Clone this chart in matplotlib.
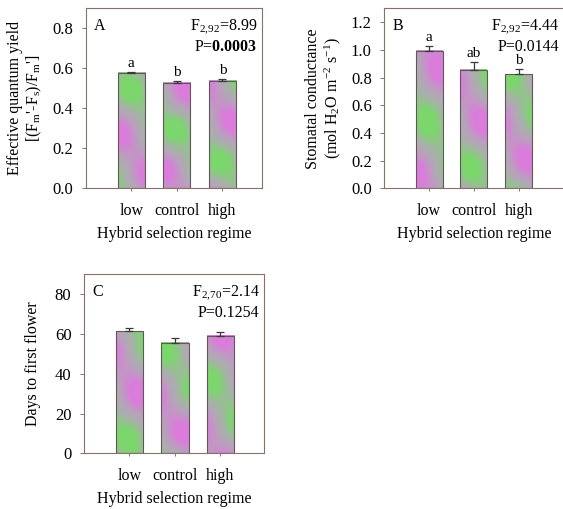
import matplotlib
matplotlib.use('Agg')
import matplotlib.pyplot as plt
import numpy as np

plt.rcParams['font.family'] = 'Liberation Serif'
plt.rcParams['mathtext.fontset'] = 'custom'
plt.rcParams['mathtext.rm'] = 'Liberation Serif'
plt.rcParams['mathtext.bf'] = 'Liberation Serif:bold'
plt.rcParams['mathtext.default'] = 'rm'

# data
regimes = ['low', 'control', 'high']

yield_mean = [0.575, 0.527, 0.538]
yield_err = [0.005, 0.008, 0.008]
yield_letters = ['a', 'b', 'b']

gs_mean = [0.995, 0.857, 0.822]
gs_err = [0.035, 0.055, 0.040]
gs_letters = ['a', 'ab', 'b']

flower_mean = [61.3, 55.4, 59.0]
flower_err = [1.9, 2.6, 2.0]

frame_col = '#85726c'
edge_col = '#625858'
green = np.array([110, 226, 90]) / 255.
magenta = np.array([230, 112, 230]) / 255.
gray = np.array([176, 170, 180]) / 255.


def bar_texture(ax, x0, x1, top, seed):
    # soft diagonal green/magenta bands over grey, like the scanned bars
    ny, nx = 160, 40
    u = np.linspace(0, 27, nx)[None, :]
    v = np.linspace(0, 120, ny)[:, None]
    t = (0.9 * np.sin(2 * np.pi * (v + 1.4 * u) / 125. + seed)
         + 0.3 * np.sin(2 * np.pi * (v - 0.9 * u) / 70. + 1.7 * seed))
    t = np.clip(t, -1, 1)
    t = np.sign(t) * np.abs(t) ** 1.4 * 0.8
    t = t[..., None]
    img = np.where(t > 0, gray + t * (magenta - gray), gray - t * (green - gray))
    ax.imshow(img, extent=[x0, x1, 0, top], aspect='auto',
              origin='lower', zorder=1, interpolation='bilinear')


def panel(ax, means, errs, ylim, yticks, fmt, tag, fline, pline, letters=None, xmax=4.0):
    x = np.arange(1, len(regimes) + 1)
    w = 0.6
    for i in range(len(x)):
        bar_texture(ax, x[i] - w / 2, x[i] + w / 2, means[i], 1.9 * i + 2.3 * ord(tag))
    ax.bar(x, means, width=w, fill=False, edgecolor=edge_col, linewidth=0.8, zorder=2)
    ax.errorbar(x, means, yerr=[np.zeros(len(errs)), errs], fmt='none',
                ecolor='#3a3a3a', elinewidth=0.9, capsize=3, capthick=0.9, zorder=3)
    if letters:
        for xi, m, e, l in zip(x, means, errs, letters):
            ax.annotate(l, (xi, m + e), xytext=(0, 1.5), textcoords='offset points',
                        ha='center', va='bottom', fontsize=11)
    ax.set_xlim(0, xmax)
    ax.set_ylim(*ylim)
    ax.set_yticks(yticks)
    ax.set_yticklabels([fmt % t for t in yticks])
    ax.set_xticks(x)
    ax.set_xticklabels(regimes)
    for s in ax.spines.values():
        s.set_color(frame_col)
        s.set_linewidth(0.8)
    ax.tick_params(axis='y', direction='out', length=3, width=0.7, color=frame_col,
                   labelsize=12, pad=6)
    ax.tick_params(axis='x', direction='out', length=2.5, width=0.7, color=frame_col,
                   labelsize=11.5, pad=8)
    ax.set_xlabel('Hybrid selection regime', fontsize=11.5, labelpad=5)
    ax.text(0.045, 0.90, tag, transform=ax.transAxes, fontsize=11.5, va='center', ha='left')
    ax.text(0.975, 0.90, fline, transform=ax.transAxes, fontsize=11.5, va='center', ha='right')
    ax.text(0.975, 0.785, pline, transform=ax.transAxes, fontsize=11.5, va='center', ha='right')


fig = plt.figure(figsize=(5.63, 5.09), dpi=100)
axA = fig.add_axes([0.1522, 0.630, 0.3132, 0.3537])
axB = fig.add_axes([0.6826, 0.630, 0.3183, 0.3537])
axC = fig.add_axes([0.1492, 0.1094, 0.3197, 0.3517])

panel(axA, yield_mean, yield_err, (0, 0.9), [0.0, 0.2, 0.4, 0.6, 0.8], '%.1f', 'A',
      r'F$_{2{,}92}$=8.99', r'P=$\mathbf{0.0003}$', yield_letters, xmax=3.87)
axA.set_ylabel("Effective quantum yield\n[(F$_{m}$'-F$_{s}$)/F$_{m}$']",
               fontsize=11.5, labelpad=6, linespacing=1.1)

panel(axB, gs_mean, gs_err, (0, 1.3), [0.0, 0.2, 0.4, 0.6, 0.8, 1.0, 1.2], '%.1f', 'B',
      r'F$_{2{,}92}$=4.44', 'P=0.0144', gs_letters, xmax=4.0)
axB.set_ylabel('Stomatal conductance\n(mol H$_{2}$O m$^{-2}$ s$^{-1}$)',
               fontsize=11.5, labelpad=6, linespacing=1.1)

panel(axC, flower_mean, flower_err, (0, 90), [0, 20, 40, 60, 80], '%d', 'C',
      r'F$_{2{,}70}$=2.14', 'P=0.1254', None, xmax=3.96)
axC.set_ylabel('Days to first flower', fontsize=11.5, labelpad=10)

fig.savefig('out.png', dpi=100)
